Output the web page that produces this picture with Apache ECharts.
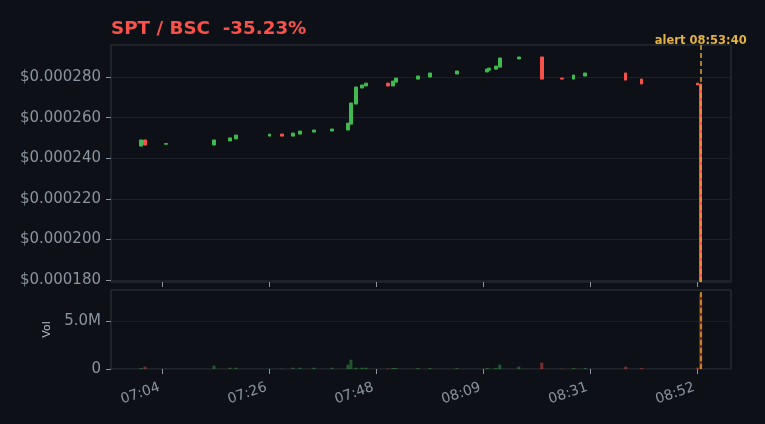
<!DOCTYPE html>
<html><head><meta charset="utf-8">
<script src="https://cdn.jsdelivr.net/npm/echarts@6/dist/echarts.min.js"></script>
<style>html,body{margin:0;padding:0;background:#0d1117;}#c{width:765px;height:424px;}</style>
</head><body><div id="c"></div>
<script>
// time of each candle, minutes since midnight
const times = [420.20, 421.00, 425.24, 434.93, 438.16, 439.37, 446.13, 448.66, 450.88, 452.29,
  455.12, 458.75, 461.98, 462.59, 463.60, 464.81, 465.61, 470.05, 471.06, 471.67,
  476.11, 478.53, 483.98, 490.04, 490.44, 491.86, 492.66, 496.50, 501.14, 505.18,
  507.60, 509.92, 518.10, 521.33, 532.63, 533.24];
const opens = [0.0002460, 0.0002490, 0.0002469, 0.0002465, 0.0002485, 0.0002495, 0.0002509, 0.0002519, 0.0002509, 0.0002519,
  0.0002529, 0.0002534, 0.0002539, 0.0002568, 0.0002667, 0.0002746, 0.0002756, 0.0002770, 0.0002756, 0.0002775,
  0.0002790, 0.0002800, 0.0002815, 0.0002825, 0.0002834, 0.0002839, 0.0002849, 0.0002889, 0.0002899, 0.0002795,
  0.0002790, 0.0002805, 0.0002820, 0.0002790, 0.0002770, 0.0002766];
const closes = [0.0002490, 0.0002465, 0.0002472, 0.0002490, 0.0002500, 0.0002514, 0.0002519, 0.0002509, 0.0002524, 0.0002534,
  0.0002539, 0.0002544, 0.0002573, 0.0002672, 0.0002751, 0.0002761, 0.0002770, 0.0002756, 0.0002780, 0.0002795,
  0.0002805, 0.0002820, 0.0002830, 0.0002839, 0.0002844, 0.0002854, 0.0002894, 0.0002899, 0.0002790, 0.0002790,
  0.0002810, 0.0002820, 0.0002785, 0.0002766, 0.0002761, 0.0001792];
// volume in millions
const volumesM = [0.10, 0.24, 0.02, 0.35, 0.14, 0.14, 0.03, 0.03, 0.14, 0.14,
  0.14, 0.14, 0.45, 0.97, 0.14, 0.14, 0.14, 0.05, 0.10, 0.10,
  0.10, 0.10, 0.10, 0.10, 0.03, 0.12, 0.45, 0.24, 0.66, 0.03,
  0.10, 0.10, 0.24, 0.10, 0.14, 7.90];
const priceTicks = [0.00018, 0.00020, 0.00022, 0.00024, 0.00026, 0.00028];
const volTicks = [0, 5];
const volTickLabels = ['0', '5.0M'];
const timeTicks = [424.5, 446.1, 467.7, 489.3, 510.9, 532.5];
const timeTickLabels = ['07:04', '07:26', '07:48', '08:09', '08:31', '08:52'];
const alertTime = 533.24;
const alertLabel = 'alert 08:53:40';
const titleText = 'SPT / BSC  -35.23%';

const UP = '#3fb950', DOWN = '#f85149';
const UPV = 'rgba(63,185,80,0.42)', DOWNV = 'rgba(248,81,73,0.45)';
const MUTED = '#8b949e', FONT = 'DejaVu Sans';
const X_MIN = 414.14, X_MAX = 539.36;

const candleData = times.map((t, i) => [t, opens[i], closes[i], Math.min(opens[i], closes[i]), Math.max(opens[i], closes[i])]);
const volData = times.map((t, i) => ({ value: [t, volumesM[i]], itemStyle: { color: closes[i] >= opens[i] ? UPV : DOWNV } }));

function lookup(vals, labels, v) {
  for (let i = 0; i < vals.length; i++) if (Math.abs(vals[i] - v) < 1e-9) return labels[i];
  return '';
}
const alertLine = {
  symbol: 'none', silent: true, animation: false, z: 10,
  lineStyle: { color: '#e3a02a', type: [5, 3], width: 1.5 },
  data: [{ xAxis: alertTime }]
};

const chart = echarts.init(document.getElementById('c'), null, { renderer: 'canvas' });
chart.setOption({
  backgroundColor: '#0d1117',
  animation: false,
  title: { text: titleText, left: 106, top: 15, textStyle: { color: DOWN, fontSize: 18.3, fontWeight: 'bold', fontFamily: FONT } },
  grid: [
    { left: 111, right: 34, top: 45, height: 237, show: true, borderColor: '#30363d', borderWidth: 1 },
    { left: 111, right: 34, top: 290, height: 79, show: true, borderColor: '#30363d', borderWidth: 1 }
  ],
  xAxis: [
    { type: 'value', gridIndex: 0, min: X_MIN, max: X_MAX,
      axisLine: { show: false }, splitLine: { show: false },
      axisTick: { show: true, customValues: timeTicks, length: 5, lineStyle: { color: MUTED } },
      axisLabel: { show: false } },
    { type: 'value', gridIndex: 1, min: X_MIN, max: X_MAX,
      axisLine: { show: false }, splitLine: { show: false },
      axisTick: { show: true, customValues: timeTicks, length: 5, lineStyle: { color: MUTED } },
      axisLabel: { show: true, customValues: timeTicks, rotate: 19, margin: 17, padding: [0, 3, 0, 0], color: MUTED, fontSize: 14, fontFamily: FONT,
        formatter: v => lookup(timeTicks, timeTickLabels, v) } }
  ],
  yAxis: [
    { type: 'value', gridIndex: 0, min: 0.000179, max: 0.0002958, scale: true,
      axisLine: { show: false },
      axisTick: { show: true, customValues: priceTicks, length: 5, lineStyle: { color: MUTED } },
      axisLabel: { customValues: priceTicks, color: MUTED, fontSize: 15, fontFamily: FONT, margin: 10,
        formatter: v => '$' + v.toFixed(6) },
      splitLine: { show: true, lineStyle: { color: '#1c2128', width: 1 } } },
    { type: 'value', gridIndex: 1, min: 0, max: 8.3,
      name: 'Vol', nameLocation: 'middle', nameGap: 58, nameRotate: 90,
      nameTextStyle: { color: '#b1bac4', fontSize: 11, fontFamily: FONT },
      axisLine: { show: false },
      axisTick: { show: true, customValues: volTicks, length: 5, lineStyle: { color: MUTED } },
      axisLabel: { customValues: volTicks, color: MUTED, fontSize: 15, fontFamily: FONT, margin: 10,
        formatter: v => lookup(volTicks, volTickLabels, v) },
      splitLine: { show: true, lineStyle: { color: '#181d24', width: 1 } } }
  ],
  series: [
    { type: 'candlestick', xAxisIndex: 0, yAxisIndex: 0, data: candleData, z: 2,
      encode: { x: 0, y: [1, 2, 3, 4] }, barWidth: 3, clip: true,
      itemStyle: { color: UP, color0: DOWN, borderColor: UP, borderColor0: DOWN, borderWidth: 1 },
      markLine: Object.assign({}, alertLine, {
        label: { show: true, position: 'end', formatter: alertLabel, color: '#e3b341', fontWeight: 'bold', fontSize: 11.5, fontFamily: FONT, distance: -2 }
      }) },
    { type: 'bar', xAxisIndex: 1, yAxisIndex: 1, data: volData, barWidth: 3, z: 2,
      encode: { x: 0, y: 1 },
      markLine: Object.assign({}, alertLine, { label: { show: false } }) }
  ]
});
</script></body></html>
